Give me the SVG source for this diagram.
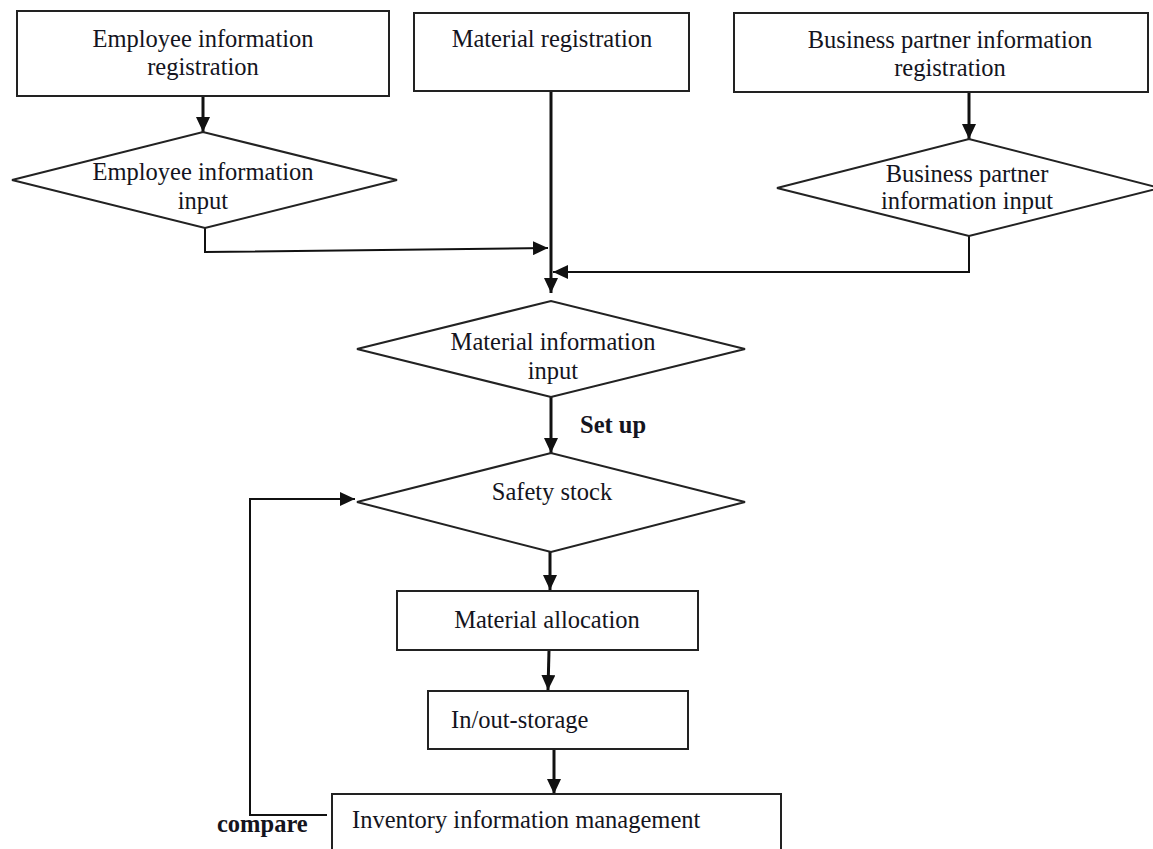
<svg xmlns="http://www.w3.org/2000/svg" width="1153" height="849" viewBox="0 0 1153 849">
<style>
.box{fill:#fff;stroke:#222;stroke-width:2}
.t{font-family:"Liberation Serif","Times New Roman",serif;font-size:24.5px;fill:#141420}
.c{text-anchor:middle}
.b{font-weight:bold}
.ar{fill:none;stroke:#111;stroke-width:3;marker-end:url(#ah)}
.al{fill:none;stroke:#111;stroke-width:2;marker-end:url(#ah)}
</style>
<defs>
<marker id="ah" viewBox="0 0 15 14" refX="15" refY="7" markerWidth="15" markerHeight="14" markerUnits="userSpaceOnUse" orient="auto">
<path d="M0,0 L15,7 L0,14 z" fill="#111"/>
</marker>
</defs>
<rect width="1153" height="849" fill="#fff"/>
<g id="connectors">
<line class="ar" x1="203" y1="96" x2="203" y2="132"/>
<polyline class="al" points="205,228 205,252 548,248"/>
<line class="ar" x1="551" y1="91" x2="551" y2="293"/>
<line class="ar" x1="969" y1="93" x2="969" y2="139"/>
<polyline class="al" points="969,236 969,272 553,272"/>
<line class="ar" x1="551" y1="397" x2="551" y2="453"/>
<line class="ar" x1="550" y1="552" x2="550" y2="590"/>
<line class="ar" x1="549" y1="650" x2="548" y2="690"/>
<line class="ar" x1="554" y1="749" x2="554" y2="794"/>
<polyline class="al" points="327,815 250,815 250,499 355,499"/>
<text class="t b" x="580" y="433">Set up</text>
<text class="t b" x="217" y="832">compare</text>
</g>
<g id="employee-registration">
<rect class="box" x="17" y="11" width="372" height="85"/>
<text class="t c" x="203" y="47">Employee information</text>
<text class="t c" x="203" y="75">registration</text>
</g>
<g id="employee-input">
<polygon class="box" points="12,180 203,132 397,180 205,228"/>
<text class="t c" x="203" y="180">Employee information</text>
<text class="t c" x="203" y="209">input</text>
</g>
<g id="material-registration">
<rect class="box" x="414" y="13" width="275" height="78"/>
<text class="t c" x="552" y="47">Material registration</text>
</g>
<g id="partner-registration">
<rect class="box" x="734" y="13" width="414" height="79"/>
<text class="t c" x="950" y="48">Business partner information</text>
<text class="t c" x="950" y="76">registration</text>
</g>
<g id="partner-input">
<polygon class="box" points="777,188 969,139 1160,188 969,236"/>
<text class="t c" x="967" y="182">Business partner</text>
<text class="t c" x="967" y="209">information input</text>
</g>
<g id="material-input">
<polygon class="box" points="357,349 551,301 745,349 551,397"/>
<text class="t c" x="553" y="350">Material information</text>
<text class="t c" x="553" y="379">input</text>
</g>
<g id="safety-stock">
<polygon class="box" points="357,502 551,453 745,502 551,552"/>
<text class="t c" x="552" y="500">Safety stock</text>
</g>
<g id="material-allocation">
<rect class="box" x="397" y="591" width="301" height="59"/>
<text class="t c" x="547" y="628">Material allocation</text>
</g>
<g id="in-out-storage">
<rect class="box" x="428" y="691" width="260" height="58"/>
<text class="t" x="451" y="728">In/out-storage</text>
</g>
<g id="inventory-management">
<rect class="box" x="332" y="794" width="449" height="70"/>
<text class="t" x="352" y="828">Inventory information management</text>
</g>
</svg>
